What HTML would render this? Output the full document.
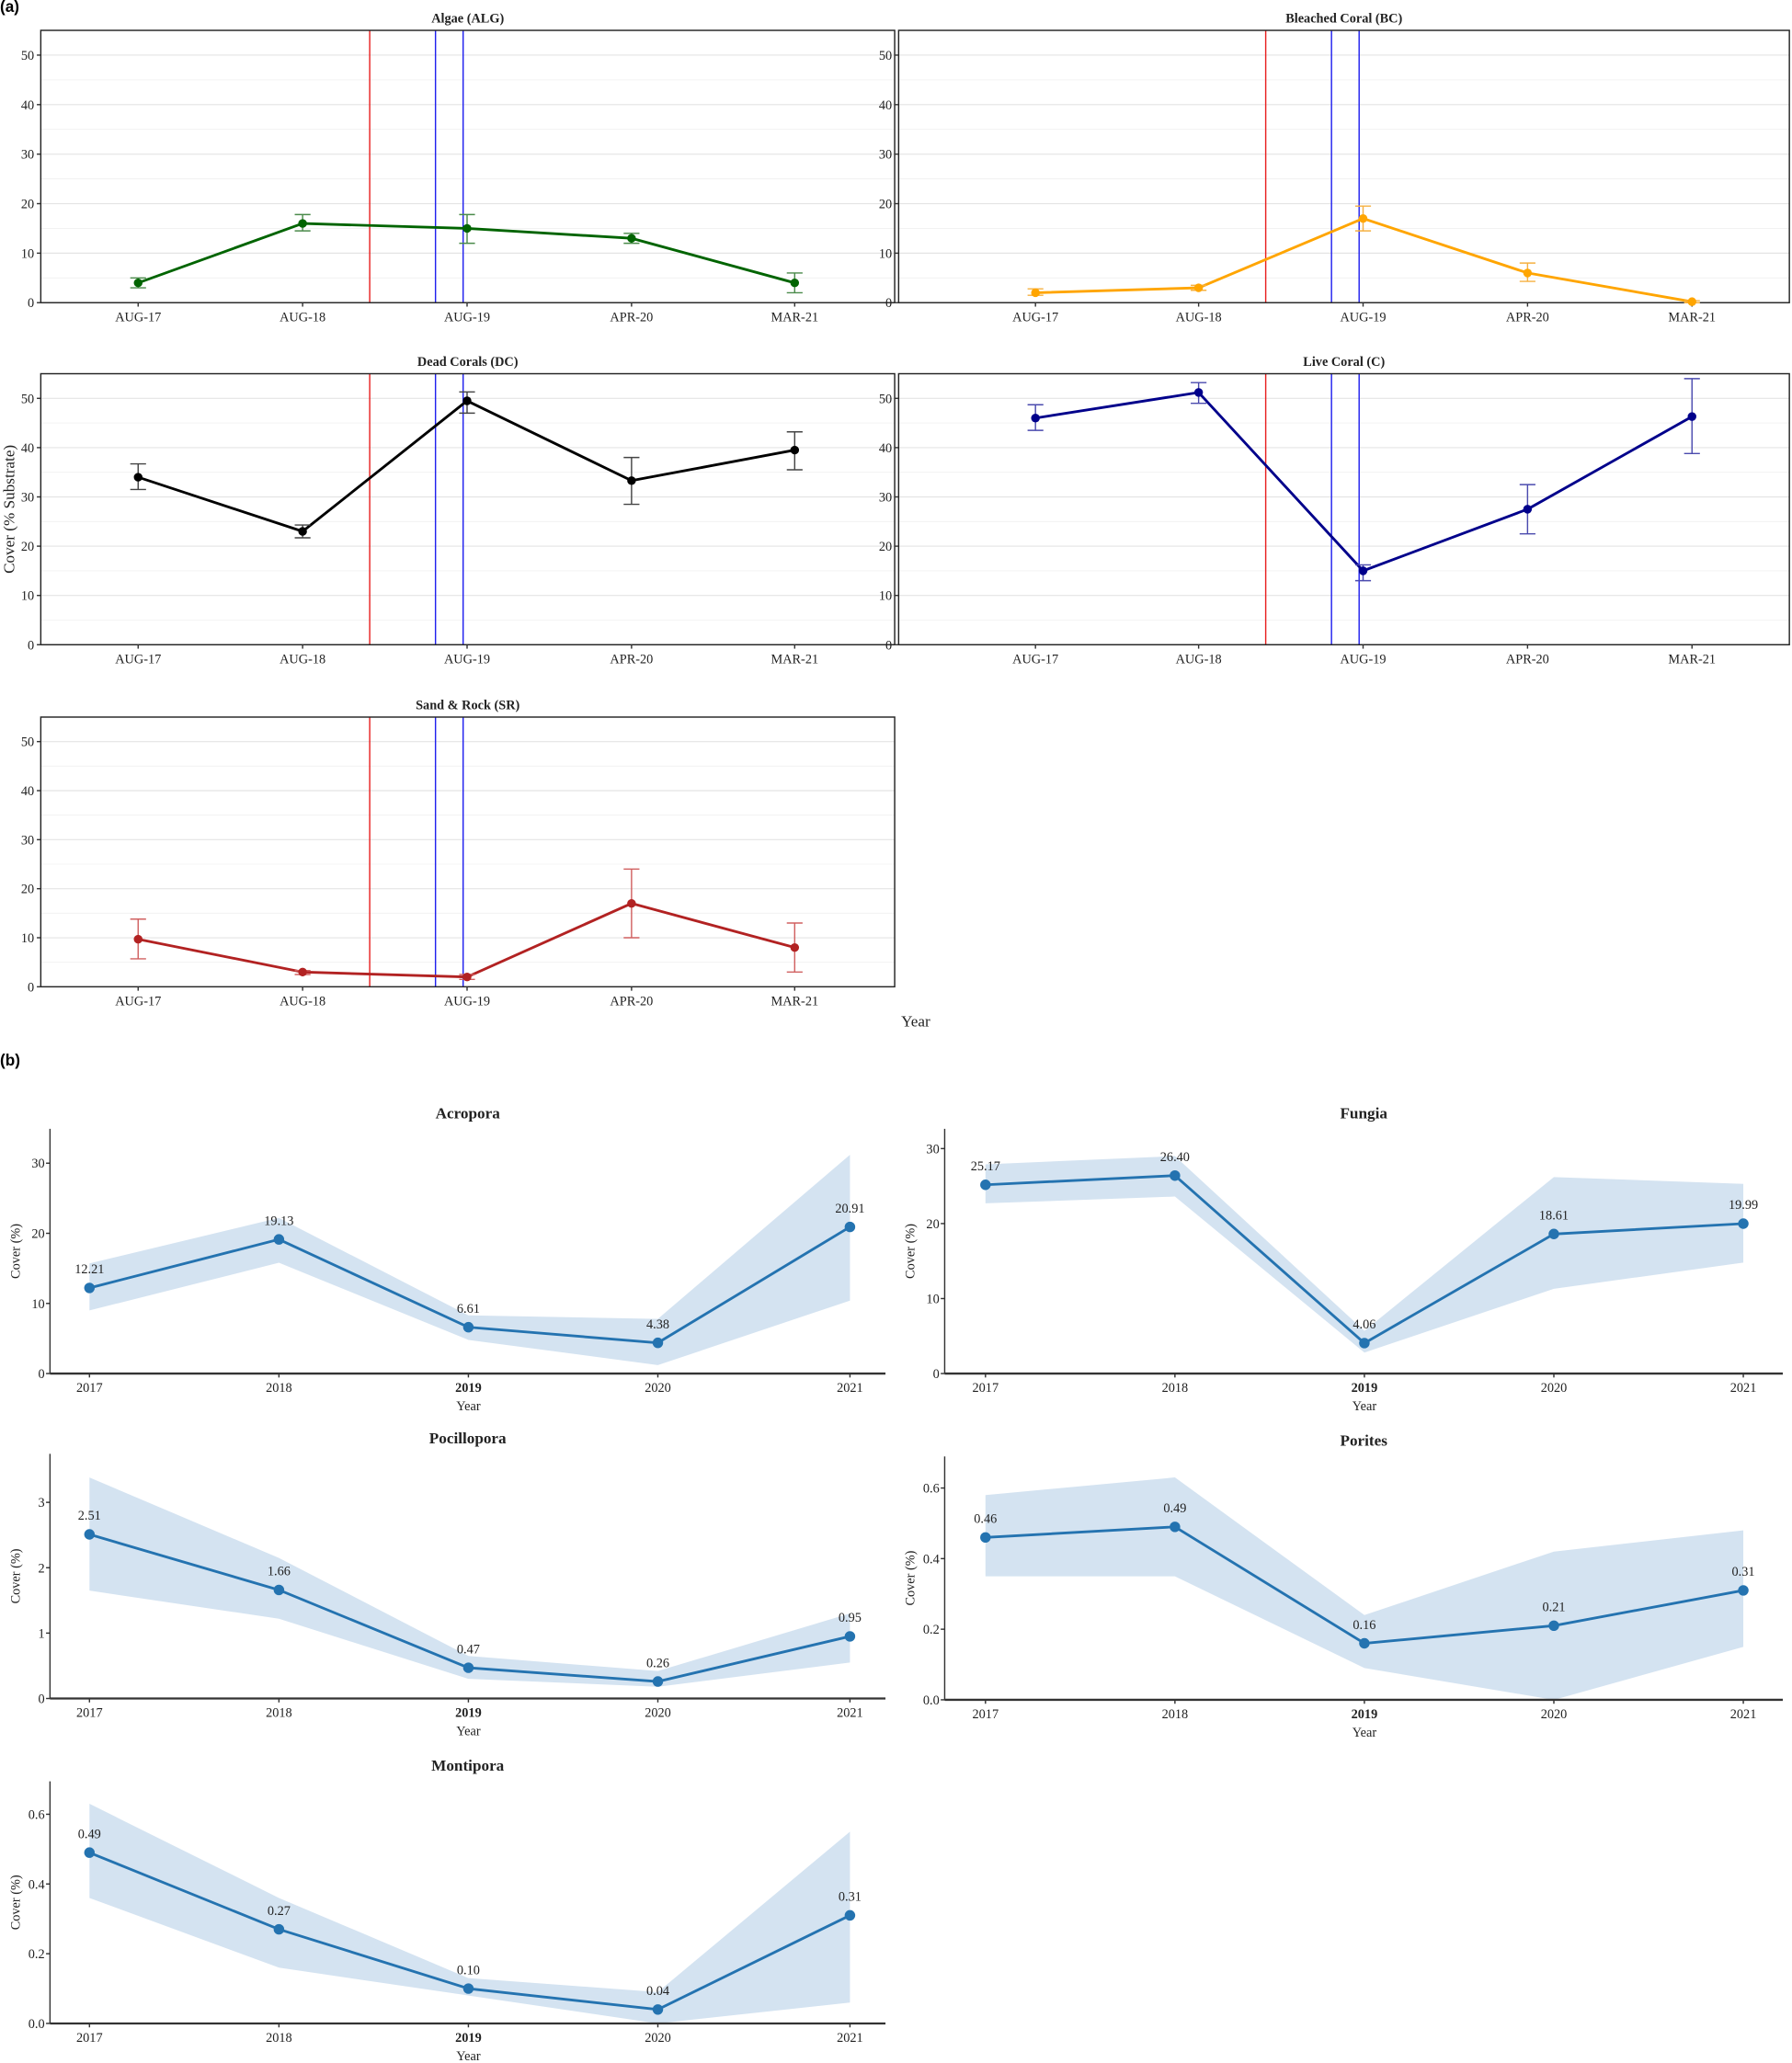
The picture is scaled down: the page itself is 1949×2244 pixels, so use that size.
<!DOCTYPE html>
<html><head><meta charset="utf-8"><style>
html,body{margin:0;padding:0;background:#fff;}
svg{display:block;}
text{font-family:"Liberation Serif",serif;}
</style></head><body>
<svg id="s" xmlns="http://www.w3.org/2000/svg" width="1949" height="2244" viewBox="0 0 1362 1568"></svg>
<script>
const S=document.getElementById('s');let h='';
function T(x,y,t,o){o=o||{};h+=`<text x="${x}" y="${y}" font-size="${o.fs||10}" text-anchor="${o.a||'middle'}" ${o.b?'font-weight="bold"':''} ${o.tr?`transform="${o.tr}"`:''} fill="${o.c||'#222'}" ${o.ff?`style="font-family:${o.ff}"`:''}>${t}</text>`;}
function L(x1,y1,x2,y2,c,w){h+=`<line x1="${x1}" y1="${y1}" x2="${x2}" y2="${y2}" stroke="${c}" stroke-width="${w||1}"/>`;}
T(0,9,'(a)',{a:'start',fs:12,b:1,c:'#000',ff:'Liberation Sans'});
const labs=['AUG-17','AUG-18','AUG-19','APR-20','MAR-21'];
function pa(x0,x1,top,bot,title,xs,red,blues,data,col,ecol){
 const y=v=>bot-(bot-top)*v/55;
 h+=`<rect x="${x0}" y="${top}" width="${x1-x0}" height="${bot-top}" fill="#fff"/>`;
 for(let v=5;v<=50;v+=5)L(x0,y(v),x1,y(v),v%10?'#f0f0f0':'#e4e4e4',v%10?0.6:0.8);
 L(red,top,red,bot,'#e82020',1);blues.forEach(b=>L(b,top,b,bot,'#2020ee',1));
 h+=`<rect x="${x0}" y="${top}" width="${x1-x0}" height="${bot-top}" fill="none" stroke="#222" stroke-width="1"/>`;
 for(let v=0;v<=50;v+=10){T(x0-5,y(v)+3.5,v,{a:'end'});L(x0-3,y(v),x0,y(v),'#333');}
 xs.forEach((x,i)=>{T(x,bot+14,labs[i]);L(x,bot,x,bot+3,'#333');});
 T((x0+x1)/2,top-6,title,{b:1,fs:10});
 h+=`<polyline points="${data.map((d,i)=>xs[i]+','+y(d[0])).join(' ')}" fill="none" stroke="${col}" stroke-width="2"/>`;
 data.forEach((d,i)=>{const x=xs[i];L(x,y(d[1]),x,y(d[2]),ecol,1);L(x-6,y(d[1]),x+6,y(d[1]),ecol,1);L(x-6,y(d[2]),x+6,y(d[2]),ecol,1);
  h+=`<circle cx="${x}" cy="${y(d[0])}" r="3.3" fill="${col}"/>`;});
}
const XL=[105,230,355,480,604],XR=[787,911,1036,1161,1286];
pa(31,680,23,230,'Algae (ALG)',XL,281,[331,352],[[4,3,5],[16,14.5,17.8],[15,12,17.8],[13,12,14],[4,2,6]],'#006400','#4a8a4a');
pa(683,1360,23,230,'Bleached Coral (BC)',XR,962,[1012,1033],[[2,1.5,2.8],[3,2.5,3.5],[17,14.5,19.5],[6,4.3,8],[0.2,0,0.4]],'#FFA500','#f5b040');
pa(31,680,284,490,'Dead Corals (DC)',XL,281,[331,352],[[34,31.5,36.7],[23,21.7,24.3],[49.5,47,51.3],[33.3,28.5,38],[39.5,35.5,43.2]],'#000','#444');
pa(683,1360,284,490,'Live Coral (C)',XR,962,[1012,1033],[[46,43.5,48.7],[51.2,49,53.2],[15,13,16.2],[27.5,22.5,32.5],[46.3,38.8,54]],'#00008B','#4a4aae');
pa(31,680,545,750,'Sand &amp; Rock (SR)',XL,281,[331,352],[[9.7,5.7,13.8],[3,2.5,3.3],[2,1.5,2.5],[17,10,24],[8,3,13]],'#B22222','#d06060');
T(696,780,'Year',{fs:12});
T(0,0,'Cover (% Substrate)',{fs:12,tr:'translate(11,387) rotate(-90)'});
T(0,810,'(b)',{a:'start',fs:12,b:1,c:'#000',ff:'Liberation Sans'});
const yrs=['2017','2018','2019','2020','2021'];
function pb(x0,x1,top,bot,title,xs,ticks,scale,fmt,data){
 // scale: px per unit
 const y=v=>bot-v*scale;
 h+=`<polygon points="${data.map((d,i)=>xs[i]+','+y(d[2])).join(' ')} ${data.slice().reverse().map((d,i)=>xs[4-i]+','+y(d[1])).join(' ')}" fill="#d4e3f1"/>`;
 L(x0,top,x0,bot,'#333',1);L(x0,bot,x1,bot,'#333',1.6);
 ticks.forEach(v=>{T(x0-4,y(v)+3.5,fmt(v),{a:'end'});L(x0-3,y(v),x0,y(v),'#333');});
 xs.forEach((x,i)=>{T(x,bot+14,yrs[i],{b:i==2});L(x,bot,x,bot+3,'#333');});
 T(xs[2],bot+28,'Year');
 T(0,0,'Cover (%)',{fs:10,tr:`translate(${x0-23},${(top+bot)/2}) rotate(-90)`});
 T((x0+x1)/2,top-8,title,{b:1,fs:12});
 h+=`<polyline points="${data.map((d,i)=>xs[i]+','+y(d[0])).join(' ')}" fill="none" stroke="#2473b0" stroke-width="2"/>`;
 data.forEach((d,i)=>{h+=`<circle cx="${xs[i]}" cy="${y(d[0])}" r="4" fill="#2473b0"/>`;T(xs[i],y(d[0])-11,d[3],{fs:10});});
}
const BL=[68,212,356,500,646],BR=[749,893,1037,1181,1325];
pb(38,673,858,1044,'Acropora',BL,[0,10,20,30],5.33,v=>v,[[12.21,9,15.7,'12.21'],[19.13,15.8,22.2,'19.13'],[6.61,4.8,8.3,'6.61'],[4.38,1.2,7.8,'4.38'],[20.91,10.4,31.2,'20.91']]);
pb(718,1355,858,1044,'Fungia',BR,[0,10,20,30],5.7,v=>v,[[25.17,22.7,27.9,'25.17'],[26.4,23.6,29,'26.40'],[4.06,2.8,5.7,'4.06'],[18.61,11.3,26.2,'18.61'],[19.99,14.8,25.3,'19.99']]);
pb(38,673,1105,1291,'Pocillopora',BL,[0,1,2,3],49.7,v=>v,[[2.51,1.65,3.38,'2.51'],[1.66,1.22,2.15,'1.66'],[0.47,0.3,0.65,'0.47'],[0.26,0.18,0.42,'0.26'],[0.95,0.55,1.3,'0.95']]);
pb(718,1355,1107,1292,'Porites',BR,[0,0.2,0.4,0.6],268.3,v=>v.toFixed(1),[[0.46,0.35,0.58,'0.46'],[0.49,0.35,0.63,'0.49'],[0.16,0.09,0.24,'0.16'],[0.21,0.0,0.42,'0.21'],[0.31,0.15,0.48,'0.31']]);
pb(38,673,1354,1538,'Montipora',BL,[0,0.2,0.4,0.6],265,v=>v.toFixed(1),[[0.49,0.36,0.63,'0.49'],[0.27,0.16,0.36,'0.27'],[0.10,0.08,0.13,'0.10'],[0.04,0.0,0.09,'0.04'],[0.31,0.06,0.55,'0.31']]);
S.innerHTML=h;
</script>
</body></html>
